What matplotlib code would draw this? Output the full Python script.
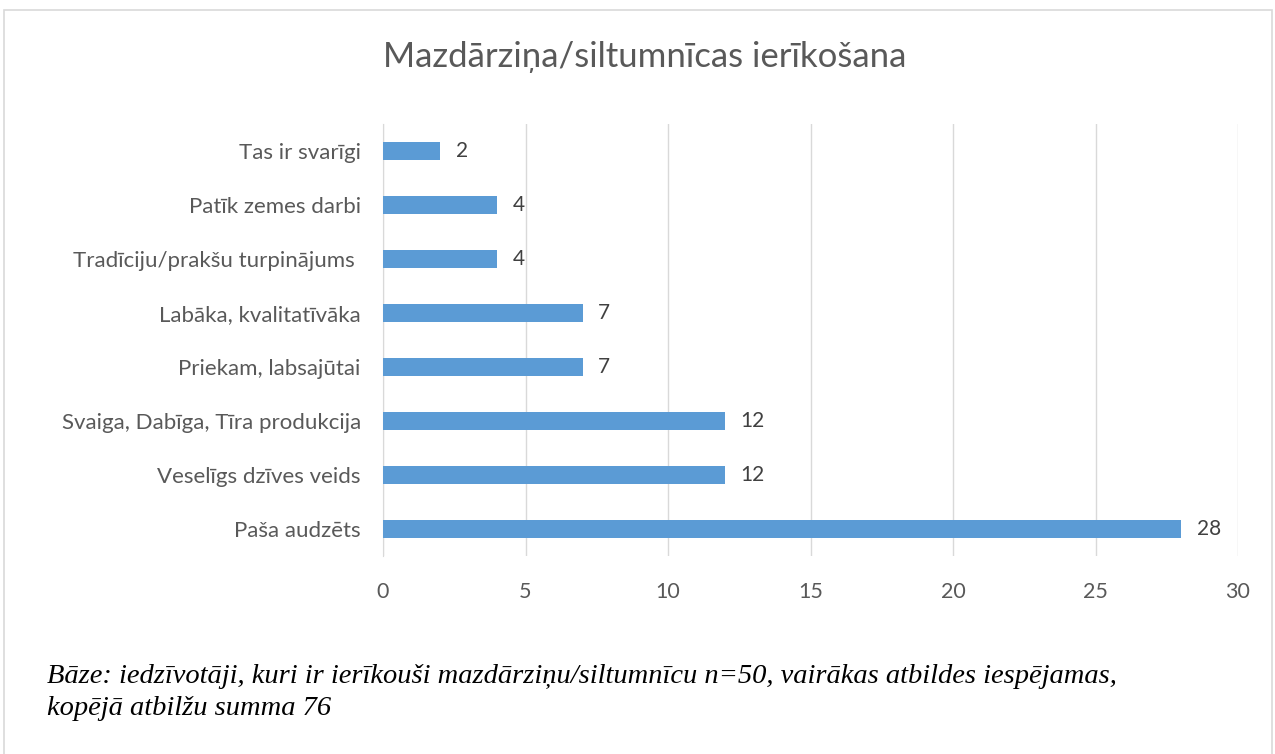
import numpy as np
import matplotlib.pyplot as plt
from matplotlib.patches import Rectangle

# categories from top to bottom as shown in the chart
categories = [
    "Tas ir svarīgi",
    "Patīk zemes darbi",
    "Tradīciju/prakšu turpinājums ",
    "Labāka, kvalitatīvāka",
    "Priekam, labsajūtai",
    "Svaiga, Dabīga, Tīra produkcija",
    "Veselīgs dzīves veids",
    "Paša audzēts",
]
values = [2, 4, 4, 7, 7, 12, 12, 28]
xticks = [0, 5, 10, 15, 20, 25, 30]

title = "Mazdārziņa/siltumnīcas ierīkošana"
note = ("Bāze: iedzīvotāji, kuri ir ierīkouši mazdārziņu/siltumnīcu n=50, vairākas atbildes iespējamas,\n"
        "kopējā atbilžu summa 76")

plt.rcParams['font.family'] = ['Lato', 'DejaVu Sans']

fig = plt.figure(figsize=(12.75, 7.54), dpi=100)
ax = fig.add_axes([0.3004, 0.2626, 0.6706, 0.5729])

y = np.arange(len(categories))[::-1]
ax.barh(y, values, height=0.35, color="#5b9bd5", zorder=3)
for yi, v in zip(y, values):
    ax.text(v + 0.55, yi, str(v), va="center", ha="left", fontsize=15, color="#404040")

ax.set_xlim(0, 30)
ax.set_ylim(-0.5, len(categories) - 0.5)
ax.set_xticks(xticks)
ax.set_yticks(y)
ax.set_yticklabels(categories)
ax.tick_params(axis="x", length=0, labelsize=15.5, colors="#595959", pad=19)
ax.tick_params(axis="y", length=0, labelsize=16, colors="#595959", pad=16)
ax.grid(axis="x", color="#d9d9d9", linewidth=1, zorder=0)
for s in ["top", "right", "bottom"]:
    ax.spines[s].set_visible(False)
ax.spines["left"].set_color("#d9d9d9")

fig.text(0.506, 0.925, title, ha="center", va="center", fontsize=25, color="#595959")
fig.text(0.037, 0.082, note, ha="left", va="center", fontsize=20.5,
         family="Liberation Serif", style="italic", color="black", linespacing=1.38)

# outer chart frame
fig.add_artist(Rectangle((0.003, -0.01), 0.995, 0.997, transform=fig.transFigure,
                         fill=False, edgecolor="#d9d9d9", linewidth=1.2))

fig.savefig("out.png", dpi=100)
